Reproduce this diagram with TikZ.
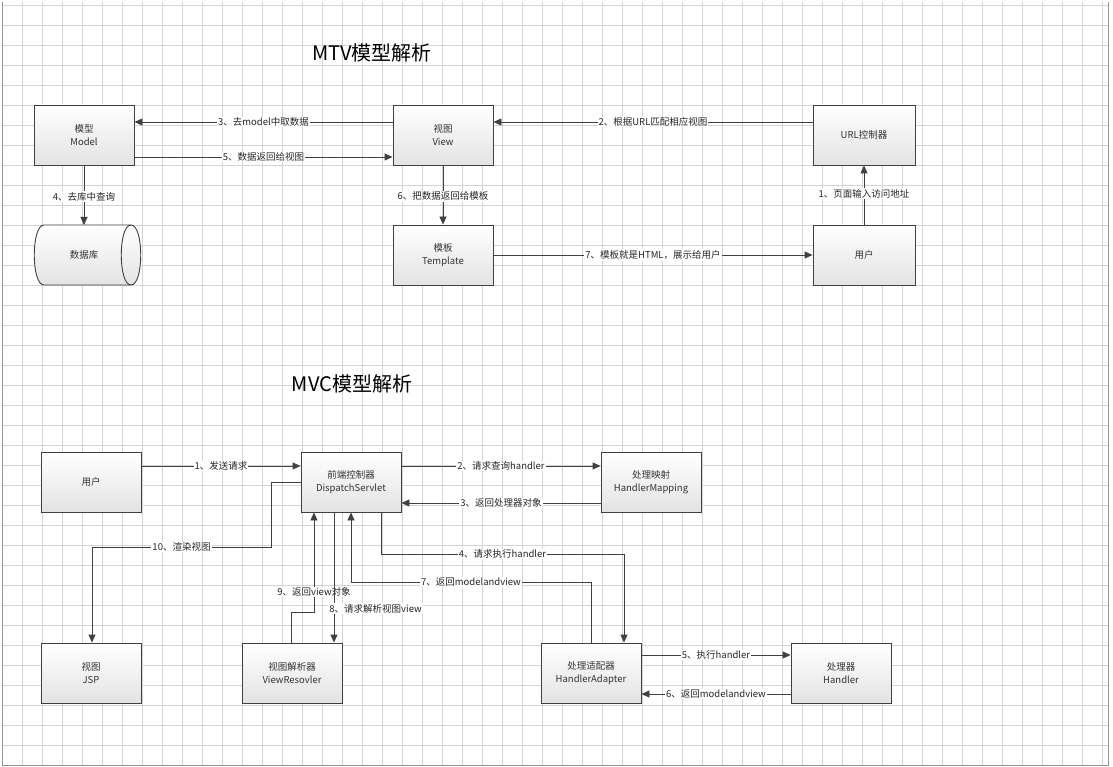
\documentclass[tikz,border=0pt]{standalone}
\usepackage{fontspec}
\setmainfont{Noto Sans CJK SC}
\usetikzlibrary{arrows.meta}
\definecolor{ln}{HTML}{404040}
\definecolor{gr}{HTML}{D4D4D4}
\begin{document}
\begin{tikzpicture}[x=1pt,y=-1pt,
  box/.style={draw=ln,line width=0.9pt,top color=white,bottom color=gray!22,minimum width=100pt,minimum height=60pt,align=center,font=\fontsize{9.5}{13}\selectfont,text=black!80},
  ar/.style={draw=ln,line width=0.9pt,-{Triangle[length=8pt,width=7pt]}},
  lb/.style={fill=white,inner sep=1pt,font=\fontsize{9.5}{11}\selectfont,text=black!85},
  tt/.style={font=\fontsize{20}{24}\selectfont}]
\useasboundingbox (0,0) rectangle (1113,767);
\fill[white] (0,0) rectangle (1113,767);
\foreach \x in {1,...,55} \draw[gr,line width=0.5pt] (\x*20+2,2) -- (\x*20+2,765);
\foreach \y in {0,...,37} \draw[gr,line width=0.5pt] (2,\y*20+5) -- (1108,\y*20+5);
\draw[gr!70!black,line width=0.7pt] (2,2) -- (2,765) -- (1108,765) -- (1108,2);
% MTV
\node[tt] (t1) at (372,53) {MTV模型解析};
\node[box] (model) at (84,135) {模型\\Model};
\node[box] (view) at (443,135) {视图\\View};
\node[box,minimum width=102pt] (url) at (864,135) {URL控制器};
\node[box] (tpl) at (443,255) {模板\\Template};
\node[box,minimum width=102pt] (user1) at (864,255) {用户};
\coordinate (db) at (84,225);
\draw[ln,line width=0.9pt,top color=white,bottom color=gray!22] (44,225) -- (131,225) .. controls (144,225) and (144,285) .. (131,285) -- (44,285) .. controls (31,285) and (31,225) .. (44,225) -- cycle;
\draw[ln,line width=0.9pt] (131,225) .. controls (118,225) and (118,285) .. (131,285);
\node[font=\fontsize{9.5}{12}\selectfont,text=black!80] (dbt) at (84,255) {数据库};
\draw[ar] (view.west|-0,122) -- node[lb]{3、去model中取数据} (model.east|-0,122);
\draw[ar] (model.east|-0,157) -- node[lb]{5、数据返回给视图} (view.west|-0,157);
\draw[ar] (url.west|-0,122) -- node[lb]{2、根据URL匹配相应视图} (view.east|-0,122);
\draw[ar] (model.south) -- node[lb,pos=0.52]{4、去库中查询} (db);
\draw[ar] (view) -- node[lb,pos=0.52]{6、把数据返回给模板} (tpl);
\draw[ar] (tpl) -- node[lb]{7、模板就是HTML，展示给用户} (user1);
\draw[ar] (user1) -- node[lb,pos=0.52]{1、页面输入访问地址} (url);
% MVC
\node[tt] (t2) at (352,384) {MVC模型解析};
\node[box] (user2) at (91,482) {用户};
\node[box] (ds) at (351,482) {前端控制器\\DispatchServlet};
\node[box] (hm) at (651,482) {处理映射\\HandlerMapping};
\node[box] (jsp) at (91,673) {视图\\JSP};
\node[box] (vr) at (292,673) {视图解析器\\ViewResovler};
\node[box] (ha) at (591,673) {处理适配器\\HandlerAdapter};
\node[box] (hd) at (841,673) {处理器\\Handler};
\draw[ar] (user2.east|-0,466) -- node[lb]{1、发送请求} (ds.west|-0,466);
\draw[ar] (ds.east|-0,466) -- node[lb]{2、请求查询handler} (hm.west|-0,466);
\draw[ar] (hm.west|-0,503) -- node[lb]{3、返回处理器对象} (ds.east|-0,503);
\draw[ar] (ds.west|-0,482) -| (271,547) -- node[lb]{10、渲染视图} (92,547) -- (jsp.north-|92,0);
\draw[ar] (291,643) -- (291,612) -- (314,612) -- node[lb,pos=0.2]{9、返回view对象} (ds.south-|314,0);
\draw[ar] (ds.south-|334,0) -- node[lb,pos=0.74,anchor=west,xshift=-6pt]{8、请求解析视图view} (vr.north-|334,0);
\draw[ar] (ds.south-|381,0) -- (381,554) -- node[lb]{4、请求执行handler} (624,554) -- (ha.north-|624,0);
\draw[ar] (ha.north-|591,0) -- (591,582) -- node[lb]{7、返回modelandview} (351,582) -- (ds.south-|351,0);
\draw[ar] (ha.east|-0,655) -- node[lb]{5、执行handler} (hd.west|-0,655);
\draw[ar] (hd.west|-0,694) -- node[lb]{6、返回modelandview} (ha.east|-0,694);
\end{tikzpicture}
\end{document}
